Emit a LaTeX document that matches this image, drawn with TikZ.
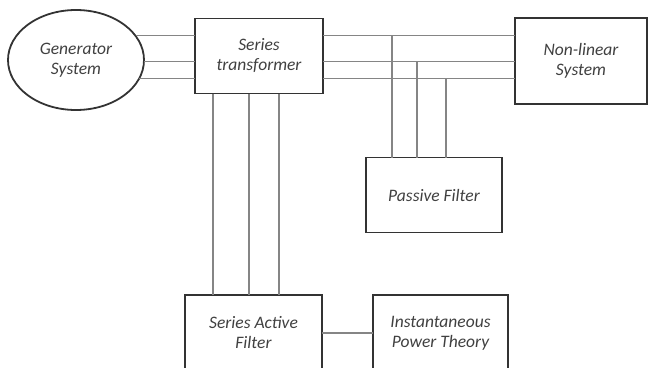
\documentclass[tikz,border=0pt]{standalone}
\usepackage{fontspec}
\setmainfont{Carlito}
\usepackage{xcolor}
\usepackage{tikz}
\usetikzlibrary{shapes.geometric}

\definecolor{edgegray}{HTML}{333333}
\definecolor{wiregray}{HTML}{858585}
\definecolor{textgray}{HTML}{404040}

\begin{document}
\begin{tikzpicture}[
        x=1pt, y=-1pt,
        block/.style={rectangle, draw=edgegray, line width=1.8pt, outer sep=0pt, align=center, text=textgray, font=\fontsize{17.5}{20}\selectfont\itshape},
        source/.style={ellipse, draw=edgegray, line width=1.8pt, outer sep=0pt, inner sep=0pt, align=center, text=textgray, font=\fontsize{17.5}{20}\selectfont\itshape},
        wire/.style={draw=wiregray, line width=1.1pt}
    ]
    \useasboundingbox (0,0) rectangle (648,367);

    % Main line
    \node[source, minimum width=136pt, minimum height=100pt] (generator) at (76,60) {Generator\\System};
    \node[block, minimum width=128pt, minimum height=75pt] (transformer) at (259,56) {Series\\transformer};
    \node[block, minimum width=132pt, minimum height=86pt] (nonlinear) at (581,61) {Non-linear\\System};

    % Filters
    \node[block, minimum width=136pt, minimum height=75pt] (passive) at (434,195) {Passive Filter};
    \node[block, minimum width=137pt, minimum height=76pt] (active) at (253.5,333) {Series Active\\Filter};
    \node[block, minimum width=135pt, minimum height=76pt] (theory) at (440.5,333) {Instantaneous\\Power Theory};

    % Three phase lines - generator to transformer
    \draw[wire] (generator.22) -- (generator.22 -| transformer.west);
    \draw[wire] (generator.-1) -- (generator.-1 -| transformer.west);
    \draw[wire] (generator.-16) -- (generator.-16 -| transformer.west);

    % Three phase lines - transformer to load
    \draw[wire] (transformer.east |- generator.22) -- (generator.22 -| nonlinear.west);
    \draw[wire] (transformer.east |- generator.-1) -- (generator.-1 -| nonlinear.west);
    \draw[wire] (transformer.east |- generator.-16) -- (generator.-16 -| nonlinear.west);

    % Taps to passive filter
    \draw[wire] ([xshift=-42pt]passive.north) -- ([xshift=-42pt]passive.north |- generator.22);
    \draw[wire] ([xshift=-17pt]passive.north) -- ([xshift=-17pt]passive.north |- generator.-1);
    \draw[wire] ([xshift=12pt]passive.north) -- ([xshift=12pt]passive.north |- generator.-16);

    % Transformer to active filter
    \draw[wire] ([xshift=-46pt]transformer.south) -- ([xshift=-46pt]transformer.south |- active.north);
    \draw[wire] ([xshift=-10pt]transformer.south) -- ([xshift=-10pt]transformer.south |- active.north);
    \draw[wire] ([xshift=20pt]transformer.south) -- ([xshift=20pt]transformer.south |- active.north);

    % Control
    \draw[wire] (active) -- (theory);

\end{tikzpicture}
\end{document}
